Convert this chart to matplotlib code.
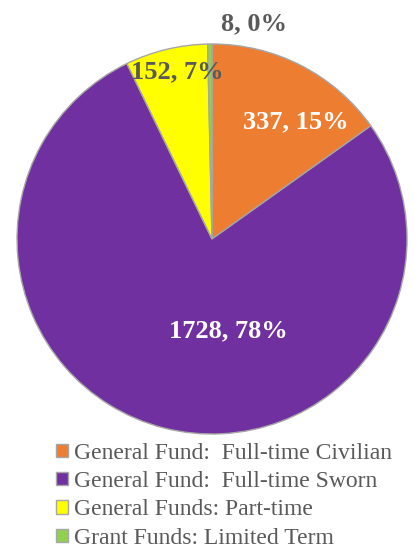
import matplotlib.pyplot as plt
from matplotlib.patches import Patch

# Staffing breakdown
categories = [
    "General Fund:  Full-time Civilian",
    "General Fund:  Full-time Sworn",
    "General Funds: Part-time",
    "Grant Funds: Limited Term",
]
counts = [337, 1728, 152, 8]
percent_labels = ["15%", "78%", "7%", "0%"]
colors = ["#ED7D31", "#7030A0", "#FFFF00", "#92D050"]

plt.rcParams["font.family"] = ["Liberation Serif", "DejaVu Serif"]

fig = plt.figure(figsize=(4.15, 5.5), dpi=100)
ax = fig.add_axes([0.041, 0.2109, 0.9398, 0.7091])

wedges, _ = ax.pie(
    counts,
    colors=colors,
    startangle=90,
    counterclock=False,
    radius=1.0,
    wedgeprops=dict(edgecolor="#A6A6A6", linewidth=1.0),
)
ax.set_xlim(-1, 1)
ax.set_ylim(-1, 1)
ax.set_aspect("equal")
ax.axis("off")

# data label positions (relative to radius), text colours
label_pos = [(0.428, 0.60), (0.082, -0.472), (-0.18, 0.856), (0.213, 1.103)]
label_col = ["white", "white", "#595959", "#595959"]
for n, pct, (x, y), c in zip(counts, percent_labels, label_pos, label_col):
    ax.text(x, y, f"{n}, {pct}", ha="center", va="center", fontsize=19,
            fontweight="bold", color=c, clip_on=False)

handles = [Patch(facecolor=col, edgecolor="#A6A6A6", linewidth=1.0) for col in colors]
leg = fig.legend(
    handles, categories,
    loc="upper left", bbox_to_anchor=(0.135, 0.195),
    frameon=False, fontsize=17,
    handlelength=0.5, handleheight=0.5, handletextpad=0.25,
    labelspacing=0.31, borderaxespad=0, borderpad=0,
)
for t in leg.get_texts():
    t.set_color("#595959")

fig.savefig("out.png", dpi=100)
